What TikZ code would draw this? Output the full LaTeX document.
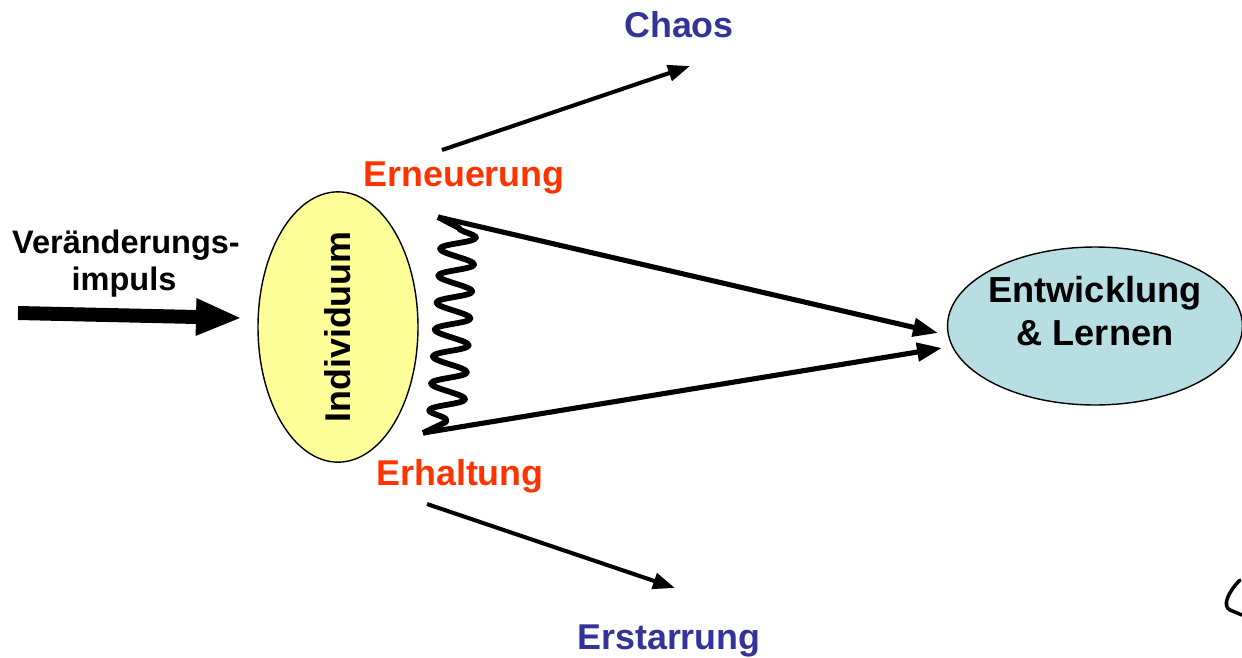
\documentclass[tikz,border=0pt]{standalone}
\usepackage{fontspec}
\setmainfont{Liberation Sans}
\usetikzlibrary{arrows.meta,shapes.geometric,decorations.pathmorphing}

\definecolor{rotorange}{RGB}{255,51,0}
\definecolor{dunkelblau}{RGB}{51,51,153}
\definecolor{hellgelb}{RGB}{255,255,153}
\definecolor{tuerkis}{RGB}{183,222,227}

\tikzset{
    schrift/.style={font=\fontsize{20.4}{24}\selectfont\bfseries, inner sep=0pt},
    pfeil/.style={line width=2.9pt, -{Triangle[length=0.5cm,width=0.36cm]}},
    duennpfeil/.style={line width=2.3pt, -{Triangle[length=0.44cm,width=0.32cm]}},
}

\begin{document}
\begin{tikzpicture}[x=0.02cm, y=-0.02cm]
    \useasboundingbox (0,0) rectangle (1242,657);
    % die beiden Ellipsen
    \node[ellipse, draw, line width=0.8pt, fill=hellgelb, minimum width=3.2cm, minimum height=5.4cm, schrift] (indiv) at (338,327) {\rotatebox{90}{Individuum}};
    \node[ellipse, draw, line width=0.8pt, fill=tuerkis, minimum width=5.9cm, minimum height=3.16cm] (entw) at (1095,326) {};
    \node[schrift, font=\fontsize{20.6}{24}\selectfont\bfseries, anchor=base] (entw1) at (1095,302) {Entwicklung};
    \node[schrift, font=\fontsize{20.6}{24}\selectfont\bfseries, anchor=base] (entw2) at (1095,345) {\& Lernen};

    % Impuls von links
    \node[schrift, font=\fontsize{18.5}{22}\selectfont\bfseries, anchor=base] (impuls1) at (126,253) {Veränderungs-};
    \node[schrift, font=\fontsize{18.5}{22}\selectfont\bfseries, anchor=base] (impuls2) at (124,290) {impuls};
    \coordinate (start) at (18,313);
    \coordinate (spitze) at (242,318);
    \draw[line width=0.28cm, -{Triangle[length=0.92cm,width=0.68cm]}] (start) -- (spitze);

    % Beschriftungen
    \node[schrift, text=rotorange, anchor=base] (erneu) at (464,186) {Erneuerung};
    \node[schrift, text=rotorange, anchor=base] (erhalt) at (460,485) {Erhaltung};
    \node[schrift, text=dunkelblau, anchor=base] (chaos) at (679,37) {Chaos};
    \node[schrift, text=dunkelblau, anchor=base] (erstarr) at (669,649) {Erstarrung};

    % Feder
    \coordinate (oben) at (438,217);
    \coordinate (unten) at (423,433);
    \draw[line width=3.3pt, line join=round, decoration={snake, segment length=0.54cm, amplitude=0.35cm}]
        (oben) -- (459,228) decorate {-- (446,422)} -- (unten);

    % Wege zum Ziel
    \coordinate (ziel1) at (938,333);
    \coordinate (ziel2) at (942,348);
    \draw[pfeil] (oben) -- (ziel1);
    \draw[pfeil] (unten) -- (ziel2);

    % Abzweige
    \coordinate (c1) at (442,150);
    \coordinate (c2) at (690,66);
    \draw[duennpfeil] (c1) -- (c2);
    \coordinate (e1) at (427,504);
    \coordinate (e2) at (675,588);
    \draw[duennpfeil] (e1) -- (e2);

    % Kritzel unten rechts
    \draw[line width=2pt, line cap=round] (1240,580) .. controls (1228,592) and (1222,606) .. (1230,610) -- (1242,615);
\end{tikzpicture}
\end{document}
